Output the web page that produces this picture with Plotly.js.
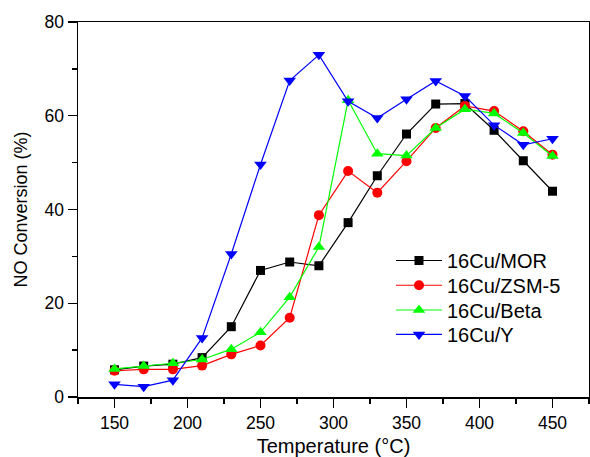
<!DOCTYPE html>
<html>
<head>
<meta charset="utf-8">
<script src="https://cdn.plot.ly/plotly-3.0.1.min.js"></script>
<style>
  html, body { margin: 0; padding: 0; background: #fff; }
  #chart { width: 590px; height: 457px; }
</style>
</head>
<body>
<div id="chart"></div>
<script>
// Reaction temperature (°C)
const temperatures = [150, 170, 190, 210, 230, 250, 270, 290, 310, 330, 350, 370, 390, 410, 430, 450];

// NO conversion (%) for each catalyst
const seriesNames = ['16Cu/MOR', '16Cu/ZSM-5', '16Cu/Beta', '16Cu/Y'];
const convMOR  = [5.8, 6.6, 7.0, 8.4, 15.0, 27.0, 28.8, 28.0, 37.2, 47.2, 56.1, 62.5, 62.6, 56.9, 50.4, 43.9];
const convZSM5 = [5.6, 5.9, 5.9, 6.7, 9.1, 11.0, 16.9, 38.8, 48.2, 43.6, 50.3, 57.4, 62.1, 61.0, 56.7, 51.7];
const convBeta = [6.0, 6.6, 7.2, 8.0, 10.2, 13.8, 21.3, 32.0, 63.3, 51.9, 51.5, 57.4, 61.4, 60.5, 56.3, 51.4];
const convY    = [2.7, 2.2, 3.6, 12.6, 30.5, 49.6, 67.5, 73.0, 63.1, 59.5, 63.5, 67.4, 64.2, 58.0, 53.8, 55.1];

const styles = [
  { color: '#000000', symbol: 'square',        size: 9 },
  { color: '#ff0000', symbol: 'circle',        size: 10 },
  { color: '#00ff00', symbol: 'triangle-up',   size: 11 },
  { color: '#0000ff', symbol: 'triangle-down', size: 11 }
];
const values = [convMOR, convZSM5, convBeta, convY];
// one legend box per series so the rows can be spaced tightly
const legendIds = ['legend', 'legend2', 'legend3', 'legend4'];
const legendTops = [0.416, 0.350, 0.284, 0.219];

const traces = values.map((ys, i) => ({
  x: temperatures,
  y: ys,
  name: seriesNames[i],
  legend: legendIds[i],
  type: 'scatter',
  mode: 'lines+markers',
  line: { color: styles[i].color, width: 1.2 },
  marker: { color: styles[i].color, symbol: styles[i].symbol, size: styles[i].size, line: { width: 0 } }
}));

const FONT = 'Arial, "Liberation Sans", sans-serif';

const axisCommon = {
  showline: true,
  linecolor: '#000',
  linewidth: 1.5,
  mirror: true,
  ticks: 'outside',
  tickcolor: '#000',
  tickwidth: 1.3,
  ticklen: 9,
  showgrid: false,
  zeroline: false,
  tickfont: { family: FONT, size: 17.5, color: '#000' }
};

const layout = {
  width: 590,
  height: 457,
  margin: { l: 78, r: 1, t: 22, b: 60 },
  paper_bgcolor: '#fff',
  plot_bgcolor: '#fff',
  showlegend: true,
  xaxis: Object.assign({}, axisCommon, {
    range: [125, 475],
    tick0: 150,
    dtick: 50,
    minor: { dtick: 25, ticks: 'outside', ticklen: 5, tickcolor: '#000', tickwidth: 1.3 },
    title: { text: 'Temperature (°C)', font: { family: FONT, size: 20, color: '#000' }, standoff: 10 }
  }),
  yaxis: Object.assign({}, axisCommon, {
    range: [0, 80],
    tick0: 0,
    dtick: 20,
    minor: { dtick: 10, ticks: 'outside', ticklen: 5, tickcolor: '#000', tickwidth: 1.3 },
    title: { text: 'NO Conversion (%)', font: { family: FONT, size: 18, color: '#000' }, standoff: 12 }
  })
};

legendIds.forEach((id, i) => {
  layout[id] = {
    x: 0.6125,
    y: legendTops[i],
    xanchor: 'left',
    yanchor: 'top',
    bgcolor: 'rgba(0,0,0,0)',
    borderwidth: 0,
    itemwidth: 46,
    font: { family: FONT, size: 20, color: '#000' }
  };
});

Plotly.newPlot('chart', traces, layout, { displayModeBar: false, staticPlot: true });
</script>
</body>
</html>
